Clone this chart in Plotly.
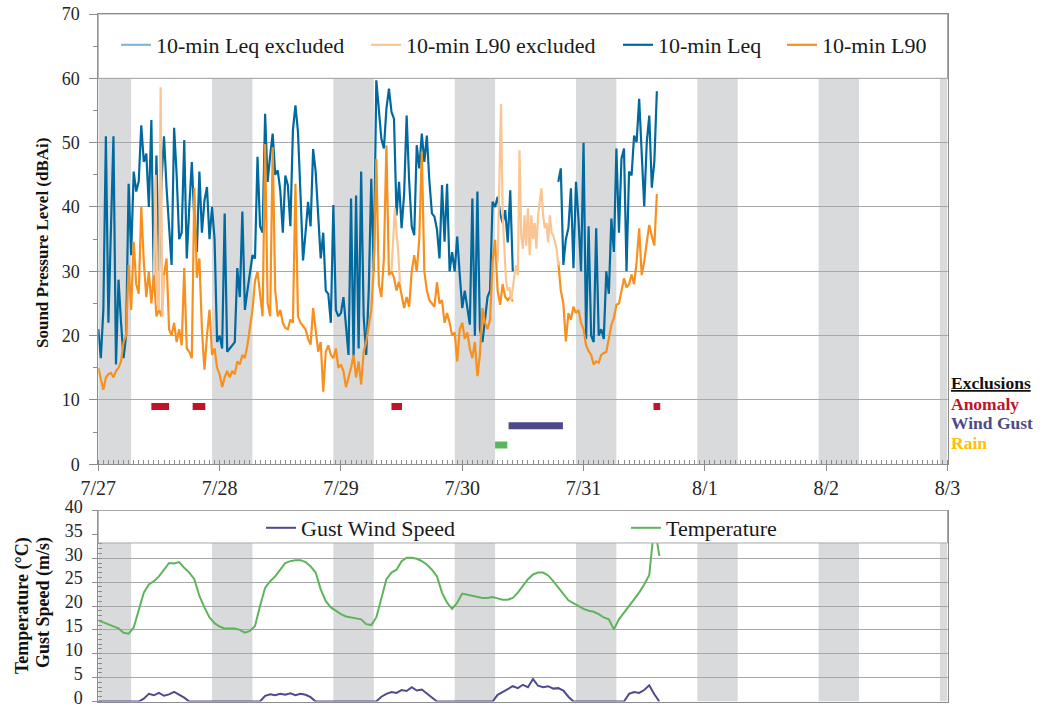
import pandas as pd
import plotly.graph_objects as go

# ---------------- DATA ----------------
START = "2015-07-27 00:00"
END = "2015-08-03 00:00"

# 10-min Leq (read at 30-min steps), dBAi
leq_day1 = [21, 16.5, 24, 51, 22, 35, 51, 15.5, 28.7, 22, 16.5, 20,
            43.6, 32.5, 45.5, 42.4, 44, 52.7, 47, 48.3, 40, 53.5, 27.4, 48,
            30, 44, 51, 43, 37.7, 31, 52.3, 45, 35, 36, 50.4, 32,
            40, 47, 38, 33, 45.5, 36, 41, 43.1, 35, 40, 35, 19]
leq_day2 = [20, 18, 39, 17.5, 18, 18.5, 19, 30.5, 26, 39.3, 24, 27,
            29.4, 32.5, 32, 47.8, 37, 36, 54.5, 43.9, 48, 51.4, 45, 45.7,
            42.6, 36, 44.9, 43.4, 37, 51.9, 55.8, 51.7, 42, 31.7, 36, 40.8,
            37, 49, 45.5, 39.5, 32, 36, 27, 26.5, 22, 40.3, 24, 23]
leq_day3 = [23.5, 26, 22, 17, 41.3, 16.5, 41.8, 18, 45.5, 23, 17, 27,
            44.4, 30, 59.7, 55.3, 50.6, 49.1, 55.3, 58.4, 54.8, 53.7, 38.7, 43.9,
            36.7, 42, 54.2, 44, 37, 35.6, 49.6, 46, 51.4, 47, 51.1, 44,
            39, 38.5, 36.5, 32, 43.4, 34.6, 43.6, 30, 33, 30, 35.4, 29.5]
leq_day4 = [24.3, 27, 24, 21.7, 41.3, 20, 42.4, 21, 19, 23, 26, 27,
            40.8, 40, 41.6, 39, 37.5, 39.5, 34.5, 42.6, 30,
            None, None, None, None, None, None, None, None, None,
            None, None, None, None, None, None, None, None,
            43.9, 46, 31, 35, 36.7, 42.9, 30.5, 43.9, 38, 30]
leq_day5 = [50, 19.5, 37, 20, 19, 36.7, 20, 21, 19.5, 30, 26.5, 38.2,
            33, 49.1, 36, 47.5, 49.1, 30, 45.5, 44.9, 51.1, 50.1, 56.8, 49.3,
            40.1, 50, 54.2, 43, 47, 58]

# 10-min L90 (read at 30-min steps), dBAi
l90_day1 = [15, 13.4, 11.6, 13.5, 14, 14.2, 13.5, 14.5, 15, 16, 19, 20,
            31, 24, 34.6, 28, 26.5, 40, 31.5, 26, 30, 25, 29.4, 23,
            24, 23, 29.4, 32, 21, 20, 22, 19, 21, 18.5, 30.5, 18,
            17.5, 16.5, 43, 29, 32, 21, 14.7, 20, 24, 17, 18, 15]
l90_day2 = [14, 12, 13.5, 14.5, 13.5, 14.5, 14, 16, 15.5, 17, 16.5, 18.5,
            21, 24, 28.5, 30, 26.5, 23, 49.8, 25, 23, 49.3, 27, 23,
            24, 22, 21.2, 21, 22.5, 22, 43.6, 23, 22, 21.5, 21, 19.5,
            18.6, 24.3, 21, 17.5, 19, 11.3, 17.5, 18.5, 17, 16.5, 18, 15]
l90_day3 = [15.5, 14.5, 12, 13.5, 15, 17, 13.5, 16, 12.4, 17.5, 19, 21.5,
            24, 30.5, 47.5, 28, 26, 32, 49.6, 29.4, 30, 29, 27, 28.4,
            26, 24.3, 26, 24.5, 30, 32.5, 30, 35, 48.6, 30, 27, 25.5,
            25, 24.5, 28.3, 25, 25.5, 22, 23.5, 22, 20, 20.5, 16, 21]
l90_day4 = [22, 19.5, 20.5, 18, 16.5, 19, 13.7, 17, 24.3, 22, 21, 22.5,
            31.5, 34.9, 27, 24.8, 28, 26, 25.5, 26, 25.3,
            None, None, None, None, None, None, None, None, None,
            None, None, None, None, None, None, None, None,
            31.5, 27, 25, 19.1, 23.5, 22.5, 24.5, 23.5, 24, 22]
l90_day5 = [21, 18.5, 17.6, 17, 15.5, 16, 15.8, 17, 17.3, 17.5, 19.5, 21.7,
            22.7, 24.8, 25, 26.8, 28.9, 27.5, 28, 29.5, 28, 31.5, 36.7, 29.4,
            31.5, 34.5, 37.2, 35.5, 34, 42]

# 10-min L90 excluded segments (20-min steps from each start)
l90x_starts = ["2015-07-27 11:00", "2015-07-29 10:00", "2015-07-30 07:00"]
l90x_values = [
    [29.4, 45, 25, 24, 58.6, 23, 29.4],
    [30, 34.6, 39.8, 36, 33, 28.4],
    [31.5, 42.4, 56, 38.7, 32.5, 28.5, 27, 27.5, 25.5, 28, 29.4, 31, 29.4,
     48.8, 35.6, 33.5, 38.7, 34, 39.8, 32.5, 38.7, 35, 37.5, 33.5, 38.7,
     40.8, 42.9, 38.7, 36.7, 37.5, 34.5, 38.7, 36, 35.6, 34.5, 33.5, 31, 31.5],
]

# Hourly temperature (degC) and gust wind speed (m/s)
temperature = [17.0, 16.6, 16.2, 15.7, 15.3, 14.4, 14.2, 15.5, 19.0, 22.8, 24.5, 25.2,
               26.2, 27.6, 29.0, 28.9, 29.2, 28.0, 27.0, 25.6, 22.1, 19.7, 17.6, 16.4,
               15.7, 15.3, 15.3, 15.3, 15.0, 14.4, 14.8, 15.8, 20.0, 23.8, 25.2, 26.2,
               27.6, 29.0, 29.4, 29.6, 29.6, 29.2, 28.3, 27.0, 23.5, 21.0, 19.7, 19.0,
               18.3, 17.8, 17.6, 17.4, 17.2, 16.2, 16.0, 17.6, 21.7, 25.6, 27.0, 27.6,
               29.4, 30.1, 30.1, 29.9, 29.4, 28.7, 27.6, 26.2, 22.8, 20.7, 19.4, 20.7,
               22.6, 22.4, 22.1, 21.9, 21.7, 21.7, 21.9, 21.6, 21.3, 21.3, 21.7, 22.8,
               24.2, 25.6, 26.6, 27.0, 27.0, 26.4, 25.2, 23.8, 22.4, 21.2, 20.6, 20.0,
               19.4, 19.0, 18.8, 18.3, 17.6, 17.2, 15.1, 17.2, 18.6, 20.0, 21.5, 22.8,
               24.5, 26.5, 37.0, 30.5]
gust = [0, 0, 0, 0, 0, 0, 0, 0, 0, 0.6, 1.6, 1.3,
        1.8, 1.2, 1.5, 2.0, 1.4, 0.8, 0, 0, 0, 0, 0, 0,
        0, 0, 0, 0, 0, 0, 0, 0, 0, 1.2, 1.5, 1.3,
        1.6, 1.4, 1.7, 1.3, 1.6, 1.4, 0.9, 0, 0, 0, 0, 0,
        0, 0, 0, 0, 0, 0, 0, 0, 1.0, 1.6, 2.0, 1.8,
        2.4, 2.2, 3.0, 2.3, 2.5, 1.7, 0.8, 0, 0, 0, 0, 0,
        0, 0, 0, 0, 0, 0, 0, 1.4, 2.0, 2.6, 3.2, 2.8,
        3.5, 3.0, 4.7, 3.3, 3.0, 3.2, 2.7, 2.8, 2.3, 1.0, 0, 0,
        0, 0, 0, 0, 0, 0, 0, 0, 0, 1.6, 2.0, 1.8,
        2.4, 3.4, 1.5, 0]

# Exclusion periods
anomaly_start = ["2015-07-27 10:30", "2015-07-27 18:40", "2015-07-29 10:00", "2015-07-31 13:50"]
anomaly_end = ["2015-07-27 14:00", "2015-07-27 21:10", "2015-07-29 12:05", "2015-07-31 15:10"]
wind_start = ["2015-07-30 09:10"]
wind_end = ["2015-07-30 19:55"]
rain_start = ["2015-07-30 06:30"]
rain_end = ["2015-07-30 08:55"]
EXCL_LEVEL = {"anomaly": 9, "wind": 6, "rain": 3}

# Night shading intervals
night_start = ["2015-07-27 00:00", "2015-07-27 22:30", "2015-07-28 22:30", "2015-07-29 22:30",
               "2015-07-30 22:30", "2015-07-31 22:30", "2015-08-01 22:30", "2015-08-02 22:30"]
night_end = ["2015-07-27 06:30", "2015-07-28 06:30", "2015-07-29 06:30", "2015-07-30 06:30",
             "2015-07-31 06:30", "2015-08-01 06:30", "2015-08-02 06:30", "2015-08-03 00:00"]

tick_vals = ["2015-07-27", "2015-07-28", "2015-07-29", "2015-07-30",
             "2015-07-31", "2015-08-01", "2015-08-02", "2015-08-03"]
tick_text = ["7/27", "7/28", "7/29", "7/30", "7/31", "8/1", "8/2", "8/3"]

# ---------------- STYLE ----------------
FONT = "Liberation Serif, DejaVu Serif, serif"
W, H = 1044, 709
X0, X1 = 98.3, 947.5
TOP_PX = (14.0, 464.3)
BOT_PX = (510.5, 701.5)

C_LEQ = "#00699F"
C_L90 = "#F7901E"
C_LEQX = "#7DB7DA"
C_L90X = "#FAC592"
C_TEMP = "#5DB55B"
C_GUST = "#4E4A8E"
C_ANOM = "#C0142B"
C_WIND = "#4E4A8A"
C_RAIN_BAR = "#5DB55B"
C_RAIN_TXT = "#FFC000"
AXIS_C = "#8C8C8C"
GRID_C = "#A8A8A8"
SHADE_C = "#D9DADB"

leq = leq_day1 + leq_day2 + leq_day3 + leq_day4 + leq_day5
l90 = l90_day1 + l90_day2 + l90_day3 + l90_day4 + l90_day5
t30 = [t.strftime("%Y-%m-%d %H:%M") for t in pd.date_range(START, periods=len(leq), freq="30min")]
th = [t.strftime("%Y-%m-%d %H:%M") for t in pd.date_range(START, periods=len(temperature), freq="h")]

fig = go.Figure()

fig.add_trace(go.Scatter(x=[None], y=[None], mode="lines", name="10-min Leq excluded",
                         line=dict(color=C_LEQX, width=2.2), legend="legend"))
fig.add_trace(go.Scatter(x=t30, y=leq, mode="lines", name="10-min Leq", connectgaps=False,
                         line=dict(color=C_LEQ, width=2.2), legend="legend3"))
fig.add_trace(go.Scatter(x=t30, y=l90, mode="lines", name="10-min L90", connectgaps=False,
                         line=dict(color=C_L90, width=2.2), legend="legend4"))
xs, ys = [], []
for st, vals in zip(l90x_starts, l90x_values):
    xs += [t.strftime("%Y-%m-%d %H:%M") for t in pd.date_range(st, periods=len(vals), freq="20min")] + [None]
    ys += vals + [None]
fig.add_trace(go.Scatter(x=xs, y=ys, mode="lines", name="10-min L90 excluded", connectgaps=False,
                         line=dict(color=C_L90X, width=2.2), legend="legend2"))


def bars(starts, ends, level, color):
    bx, by = [], []
    for s, e in zip(starts, ends):
        bx += [s, e, None]
        by += [level, level, None]
    return go.Scatter(x=bx, y=by, mode="lines", showlegend=False, hoverinfo="skip",
                      line=dict(color=color, width=7))


fig.add_trace(bars(anomaly_start, anomaly_end, EXCL_LEVEL["anomaly"], C_ANOM))
fig.add_trace(bars(wind_start, wind_end, EXCL_LEVEL["wind"], C_WIND))
fig.add_trace(bars(rain_start, rain_end, EXCL_LEVEL["rain"], C_RAIN_BAR))

fig.add_trace(go.Scatter(x=th, y=temperature, mode="lines", name="Temperature", xaxis="x2", yaxis="y2",
                         line=dict(color=C_TEMP, width=2), legend="legend6"))
fig.add_trace(go.Scatter(x=th, y=gust, mode="lines", name="Gust Wind Speed", xaxis="x2", yaxis="y2",
                         line=dict(color=C_GUST, width=2), legend="legend5"))

shapes = []
for s, e in zip(night_start, night_end):
    shapes.append(dict(type="rect", xref="x", yref="y", x0=s, x1=e, y0=0, y1=60,
                       fillcolor=SHADE_C, line=dict(width=0), layer="below"))
    shapes.append(dict(type="rect", xref="x2", yref="y2", x0=s, x1=e, y0=0, y1=33.2,
                       fillcolor=SHADE_C, line=dict(width=0), layer="below"))
shapes.append(dict(type="rect", xref="x domain", yref="y", x0=0, x1=1, y0=60, y1=70,
                   fillcolor="white", line=dict(color=GRID_C, width=1), layer="above"))
shapes.append(dict(type="rect", xref="x2 domain", yref="y2", x0=0, x1=1, y0=33.2, y1=40,
                   fillcolor="white", line=dict(color=GRID_C, width=1), layer="above"))


def leg(x_px, y_px):
    return dict(x=(x_px - 6) / W, y=1 - y_px / H, xanchor="left", yanchor="middle",
                orientation="h", bgcolor="rgba(0,0,0,0)", borderwidth=0, itemwidth=30,
                font=dict(family=FONT, size=22, color="#1a1a1a"))


dom_x = [X0 / W, X1 / W]
tick_font = dict(family=FONT, size=18, color="#262626")

annotations = [
    dict(text="<b>Sound Pressure Level (dBAi)</b>", x=42 / W, y=1 - 243 / H, xref="paper", yref="paper",
         textangle=-90, showarrow=False, xanchor="center", yanchor="middle",
         font=dict(family=FONT, size=17, color="#111")),
    dict(text="<b>Temperature (°C)</b>", x=22 / W, y=1 - 606 / H, xref="paper", yref="paper",
         textangle=-90, showarrow=False, xanchor="center", yanchor="middle",
         font=dict(family=FONT, size=18, color="#111")),
    dict(text="<b>Gust Speed (m/s)</b>", x=43 / W, y=1 - 603 / H, xref="paper", yref="paper",
         textangle=-90, showarrow=False, xanchor="center", yanchor="middle",
         font=dict(family=FONT, size=18, color="#111")),
]
excl_labels = [("<b><u>Exclusions</u></b>", "#111", 383), ("<b>Anomaly</b>", C_ANOM, 404),
               ("<b>Wind Gust</b>", C_WIND, 423), ("<b>Rain</b>", C_RAIN_TXT, 443)]
for txt, col, ypx in excl_labels:
    annotations.append(dict(text=txt, x=949 / W, y=1 - ypx / H, xref="paper", yref="paper",
                            showarrow=False, xanchor="left", yanchor="middle",
                            font=dict(family=FONT, size=17.5, color=col)))

fig.update_layout(
    width=W, height=H, margin=dict(l=0, r=0, t=0, b=0, autoexpand=False),
    paper_bgcolor="white", plot_bgcolor="white",
    xaxis=dict(domain=dom_x, anchor="y", type="date", range=[START, END], automargin=False,
               tickvals=tick_vals, ticktext=tick_text, tickfont=dict(family=FONT, size=20, color="#262626"),
               showgrid=False, zeroline=False, showline=True, linecolor=AXIS_C, linewidth=1, mirror=True,
               ticks="outside", ticklen=6, tickcolor=AXIS_C, ticklabeloverflow="allow",
               minor=dict(dtick=3600000, ticks="inside", ticklen=4, tickcolor=AXIS_C, showgrid=False)),
    yaxis=dict(domain=[1 - TOP_PX[1] / H, 1 - TOP_PX[0] / H], anchor="x", range=[0, 70], dtick=10,
               automargin=False, ticklabeloverflow="allow",
               tickfont=tick_font, showgrid=True, gridcolor=GRID_C, gridwidth=1, zeroline=False,
               showline=True, linecolor=AXIS_C, linewidth=1, mirror=True,
               ticks="outside", ticklen=8, tickcolor=AXIS_C, ticklabelstandoff=6,
               minor=dict(dtick=5, ticks="outside", ticklen=4, tickcolor=AXIS_C, showgrid=False)),
    xaxis2=dict(domain=dom_x, anchor="y2", type="date", range=[START, END], automargin=False,
                showticklabels=False, showgrid=False, zeroline=False, showline=True,
                linecolor=AXIS_C, linewidth=1, mirror=True, ticks="", layer="below traces"),
    yaxis2=dict(domain=[1 - BOT_PX[1] / H, 1 - BOT_PX[0] / H], anchor="x2", range=[0, 40], dtick=5,
                automargin=False, ticklabeloverflow="allow", ticklabelshift=-4,
                tickfont=tick_font, showgrid=True, gridcolor=GRID_C, gridwidth=1, zeroline=False,
                showline=True, linecolor=AXIS_C, linewidth=1, mirror=True,
                ticks="outside", ticklen=5, tickcolor=AXIS_C, ticklabelstandoff=6,
                minor=dict(dtick=1, ticks="inside", ticklen=4, tickcolor=AXIS_C, showgrid=False)),
    legend=leg(122, 45), legend2=leg(372, 45), legend3=leg(624, 45), legend4=leg(788, 45),
    legend5=leg(267, 528), legend6=leg(632, 528),
    shapes=shapes, annotations=annotations, showlegend=True,
)

fig.write_html("out.html")
